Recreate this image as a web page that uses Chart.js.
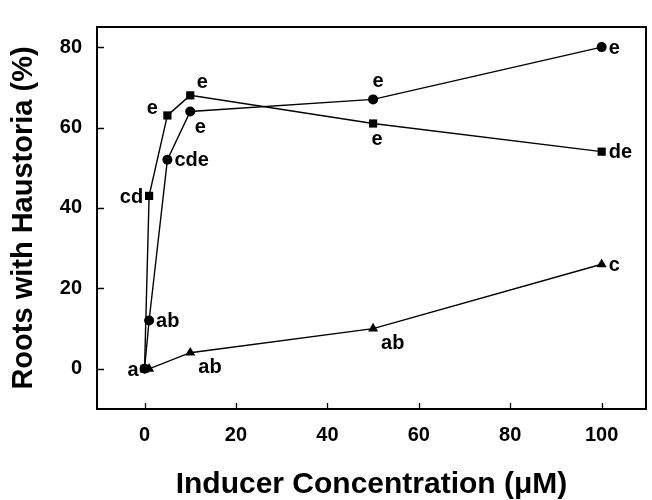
<!DOCTYPE html>
<html>
<head>
<meta charset="utf-8">
<script src="https://cdn.jsdelivr.net/npm/chart.js@4/dist/chart.umd.min.js"></script>
<style>
  html, body { margin: 0; padding: 0; background: #fff; }
  #wrap { width: 652px; height: 500px; }
</style>
</head>
<body>
<div id="wrap"><canvas id="c" width="652" height="500"></canvas></div>
<script>
// ---- data ----
const xTicks = [0, 20, 40, 60, 80, 100];
const yTicks = [0, 20, 40, 60, 80];
const xTitle = 'Inducer Concentration (\u03BCM)';
const yTitle = 'Roots with Haustoria (%)';

const circleX = [0, 1, 5, 10, 50, 100];
const circleY = [0, 12, 52, 64, 67, 80];
const circleLetters = ['a', 'ab', 'cde', 'e', 'e', 'e'];

const squareX = [0, 1, 5, 10, 50, 100];
const squareY = [0, 43, 63, 68, 61, 54];
const squareLetters = ['', 'cd', 'e', 'e', 'e', 'de'];

const triangleX = [0, 1, 10, 50, 100];
const triangleY = [0, 0, 4, 10, 26];
const triangleLetters = ['', '', 'ab', 'ab', 'c'];

// ---- label placement (style, not data) ----
const circleSpots = ['l', 'r', 'r', 'br', 'tc', 'r'];
const squareSpots = ['', 'l', 'tl', 'tr', 'bc', 'r'];
const triangleSpots = ['', '', 'brl', 'brl', 'r'];

const FONT = '"Liberation Sans", Arial, Helvetica, sans-serif';

function pts(xs, ys) { return xs.map((x, i) => ({ x: x, y: ys[i] })); }

const letterPlugin = {
  id: 'letters',
  afterDatasetsDraw(chart) {
    const ctx = chart.ctx;
    ctx.save();
    ctx.fillStyle = '#000';
    ctx.font = 'bold 20px ' + FONT;
    chart.data.datasets.forEach((ds, di) => {
      const meta = chart.getDatasetMeta(di);
      ds.letters.forEach((txt, i) => {
        if (!txt) return;
        const el = meta.data[i];
        const spot = ds.spots[i];
        let x = el.x, y = el.y, align = 'left';
        if (spot === 'r') { x += 7; y += 1; align = 'left'; }
        else if (spot === 'l') { x -= 6; y += 2; align = 'right'; }
        else if (spot === 'br') { x += 10; y += 16; align = 'center'; }
        else if (spot === 'tc') { x += 5; y -= 18; align = 'center'; }
        else if (spot === 'tl') { x -= 15; y -= 7; align = 'center'; }
        else if (spot === 'tr') { x += 12; y -= 13; align = 'center'; }
        else if (spot === 'bc') { x += 4; y += 16; align = 'center'; }
        else if (spot === 'brl') { x += 8; y += 15; align = 'left'; }
        ctx.textAlign = align;
        ctx.textBaseline = 'middle';
        ctx.fillText(txt, x, y);
      });
    });
    ctx.restore();
  }
};

const framePlugin = {
  id: 'frame',
  afterDraw(chart) {
    const ctx = chart.ctx;
    const a = chart.chartArea;
    const xs = chart.scales.x, ys = chart.scales.y;
    ctx.save();
    ctx.strokeStyle = '#000';
    ctx.lineWidth = 1.3;
    ctx.beginPath();
    xTicks.forEach(v => {
      const px = Math.round(xs.getPixelForValue(v)) + 0.5;
      ctx.moveTo(px, a.bottom);
      ctx.lineTo(px, a.bottom - 6);
    });
    yTicks.forEach(v => {
      const py = Math.round(ys.getPixelForValue(v)) + 0.5;
      ctx.moveTo(a.left, py);
      ctx.lineTo(a.left + 7, py);
    });
    ctx.stroke();
    ctx.lineWidth = 2;
    ctx.strokeRect(a.left, a.top, a.right - a.left, a.bottom - a.top);
    ctx.restore();
  }
};

const lineStyle = {
  borderColor: '#000',
  backgroundColor: '#000',
  pointBackgroundColor: '#000',
  pointBorderColor: '#000',
  borderWidth: 1.4,
  pointBorderWidth: 0,
  tension: 0,
  fill: false,
  showLine: true
};

new Chart(document.getElementById('c'), {
  type: 'scatter',
  data: {
    datasets: [
      Object.assign({}, lineStyle, {
        label: 'triangle', data: pts(triangleX, triangleY),
        pointStyle: 'triangle', pointRadius: 5.8,
        letters: triangleLetters, spots: triangleSpots
      }),
      Object.assign({}, lineStyle, {
        label: 'circle', data: pts(circleX, circleY),
        pointStyle: 'circle', pointRadius: 5,
        letters: circleLetters, spots: circleSpots
      }),
      Object.assign({}, lineStyle, {
        label: 'square', data: pts(squareX, squareY),
        pointStyle: 'rect', pointRadius: 5.8,
        letters: squareLetters, spots: squareSpots
      })
    ]
  },
  options: {
    responsive: false,
    animation: false,
    devicePixelRatio: 1,
    layout: { padding: { left: 0, right: 6, top: 13, bottom: 0 } },
    plugins: { legend: { display: false }, tooltip: { enabled: false } },
    scales: {
      x: {
        type: 'linear', min: -10.4, max: 109.7,
        grid: { display: false, drawTicks: false, tickLength: 0 },
        border: { display: false },
        afterBuildTicks: s => { s.ticks = xTicks.map(v => ({ value: v })); },
        afterFit: s => { s.height = 91; },
        ticks: {
          color: '#000', padding: 14,
          font: { family: FONT, size: 20, weight: 'bold' },
          callback: v => String(v)
        },
        title: {
          display: true, text: xTitle, color: '#000',
          font: { family: FONT, size: 30, weight: 'bold', lineHeight: 1 },
          padding: { top: 0, bottom: 0 }
        }
      },
      y: {
        type: 'linear', min: -10, max: 85,
        grid: { display: false, drawTicks: false, tickLength: 0 },
        border: { display: false },
        afterBuildTicks: s => { s.ticks = yTicks.map(v => ({ value: v })); },
        afterFit: s => { s.width = 97; },
        ticks: {
          color: '#000', padding: 15,
          font: { family: FONT, size: 20, weight: 'bold' },
          callback: v => String(v)
        },
        title: {
          display: true, text: yTitle, color: '#000',
          font: { family: FONT, size: 29, weight: 'bold', lineHeight: 1 },
          padding: { top: 9, bottom: 0 }
        }
      }
    }
  },
  plugins: [letterPlugin, framePlugin]
});
</script>
</body>
</html>
